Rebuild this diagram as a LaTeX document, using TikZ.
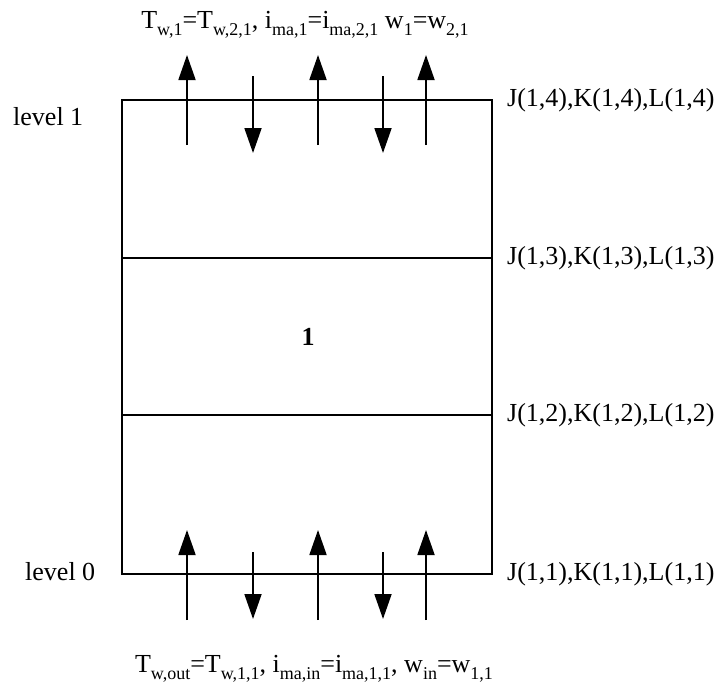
\documentclass[tikz,border=0pt]{standalone}
\usepackage{fontspec}
\setmainfont{Liberation Serif}
\usetikzlibrary{arrows.meta}
\newcommand\sbs[1]{\raisebox{-0.28em}{\fontsize{18}{18}\selectfont #1}}
\tikzset{
  lbl/.style={inner sep=0pt, font=\fontsize{26}{30}\selectfont},
  boxline/.style={line width=1.6pt},
  flow/.style={line width=1.8pt, -{Triangle[width=17pt,length=25pt]}}
}
\begin{document}
\begin{tikzpicture}[x=1pt,y=-1pt]
\useasboundingbox (0,0) rectangle (717,691);
% box corners and level lines
\coordinate (tl) at (122,100);
\coordinate (tr) at (492,100);
\coordinate (l3) at (122,258);
\coordinate (r3) at (492,258);
\coordinate (l2) at (122,415);
\coordinate (r2) at (492,415);
\coordinate (bl) at (122,574);
\coordinate (br) at (492,574);
\draw[boxline] (tl) -- (tr) -- (br) -- (bl) -- cycle;
\draw[boxline] (l3) -- (r3);
\draw[boxline] (l2) -- (r2);
% labels
\node[lbl, anchor=base] (top) at (305,28) {T\sbs{w,1}=T\sbs{w,2,1}, i\sbs{ma,1}=i\sbs{ma,2,1} w\sbs{1}=w\sbs{2,1}};
\node[lbl, anchor=base] (bot) at (314,672) {T\sbs{w,out}=T\sbs{w,1,1}, i\sbs{ma,in}=i\sbs{ma,1,1}, w\sbs{in}=w\sbs{1,1}};
\node[lbl, anchor=base west] (lev1) at (13,125) {level 1};
\node[lbl, anchor=base west] (lev0) at (25,580) {level 0};
\node[lbl, anchor=center, font=\fontsize{26}{30}\selectfont\bfseries] (one) at (308,337) {1};
\node[lbl, anchor=west] (j4) at (507,100) {J(1,4),K(1,4),L(1,4)};
\node[lbl, anchor=west] (j3) at (507,258) {J(1,3),K(1,3),L(1,3)};
\node[lbl, anchor=west] (j2) at (507,415) {J(1,2),K(1,2),L(1,2)};
\node[lbl, anchor=west] (j1) at (507,574) {J(1,1),K(1,1),L(1,1)};
% arrows
\foreach \x/\n in {187/a,318/b,426/c} {
  \coordinate (tu\n s) at (\x,145); \coordinate (tu\n e) at (\x,55);
  \draw[flow] (tu\n s) -- (tu\n e);
  \coordinate (bu\n s) at (\x,620); \coordinate (bu\n e) at (\x,530);
  \draw[flow] (bu\n s) -- (bu\n e);
}
\foreach \x/\n in {253/a,383/b} {
  \coordinate (td\n s) at (\x,76); \coordinate (td\n e) at (\x,153);
  \draw[flow] (td\n s) -- (td\n e);
  \coordinate (bd\n s) at (\x,552); \coordinate (bd\n e) at (\x,619);
  \draw[flow] (bd\n s) -- (bd\n e);
}
\end{tikzpicture}
\end{document}
